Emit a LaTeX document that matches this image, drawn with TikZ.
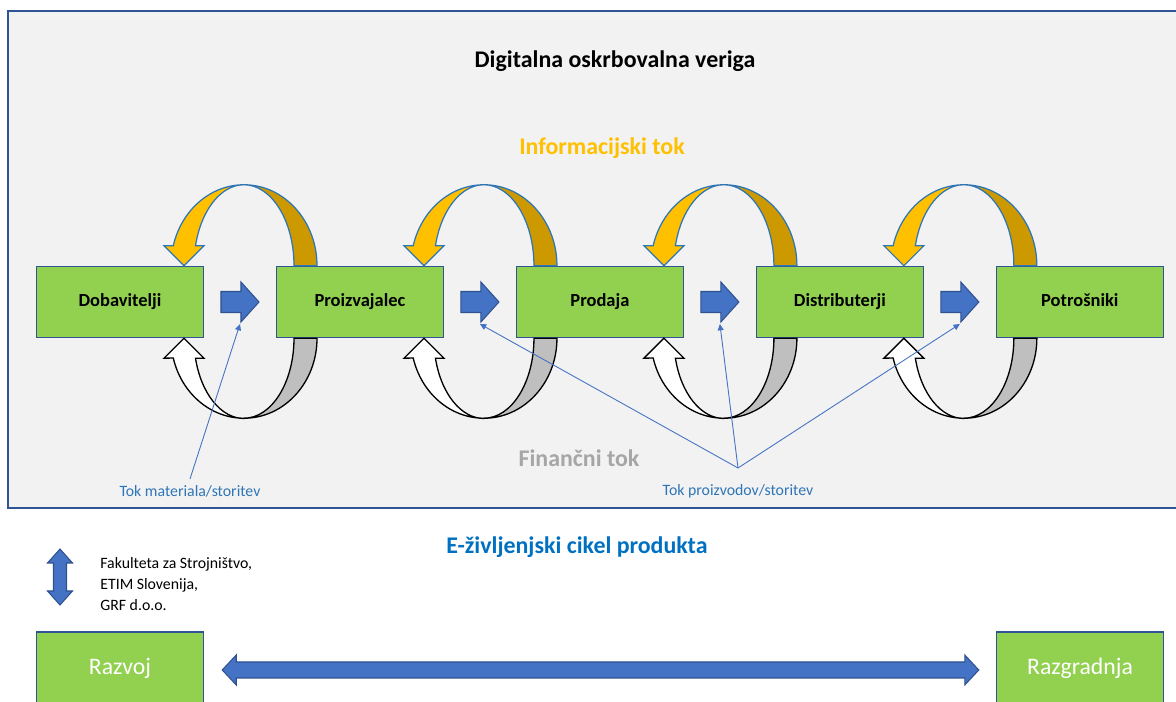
\documentclass[tikz,border=0pt]{standalone}
\usepackage{fontspec}
\setmainfont{Carlito}
\usetikzlibrary{arrows.meta, calc, positioning}
\definecolor{BoxGreen}{HTML}{92D050}
\definecolor{BoxLine}{HTML}{2F5597}
\definecolor{FlowBlue}{HTML}{4472C4}
\definecolor{FlowLine}{HTML}{2F528F}
\definecolor{InfoGold}{HTML}{FFC000}
\definecolor{InfoDark}{HTML}{CC9900}
\definecolor{InfoLine}{HTML}{2E75B6}
\definecolor{FinGray}{HTML}{BFBFBF}
\definecolor{TextGray}{HTML}{A6A6A6}
\definecolor{PanelGray}{HTML}{F2F2F2}
\definecolor{NoteBlue}{HTML}{2E75B6}
\definecolor{CycleBlue}{HTML}{0070C0}

\begin{document}
\begin{tikzpicture}[x=0.02cm, y=0.02cm, on grid,
    stage/.style={draw=BoxLine, line width=0.85pt, fill=BoxGreen, minimum width=3.34cm, minimum height=1.42cm,
      text height=0.72em, text depth=0.22em, font=\fontsize{10.5}{12}\selectfont\bfseries},
    phase/.style={draw=BoxLine, line width=0.85pt, fill=BoxGreen, minimum width=3.34cm, minimum height=1.52cm,
      text height=0.72em, text depth=0.22em, text=white, font=\fontsize{13.5}{16}\selectfont},
    heading/.style={font=\fontsize{13.6}{16}\selectfont\bfseries},
    note/.style={font=\fontsize{9}{11.9}\selectfont},
    blockarrow/.style={fill=FlowBlue, draw=FlowLine, line width=0.6pt},
    infoarc/.style={draw=InfoLine, line width=0.7pt},
    finarc/.style={draw=black, line width=0.75pt},
    callout/.style={draw=FlowBlue, line width=0.5pt, -{Triangle[length=3.6pt, width=3.4pt]}}
  ]
  \useasboundingbox (0,0) rectangle (1176,702);

  % Digital supply chain panel
  \draw[fill=PanelGray, draw=BoxLine, line width=1.1pt] (8,691) rectangle (1190,194);
  \node[heading] (title) at (615,641) {Digitalna oskrbovalna veriga};
  \node[heading, text=InfoGold] (info) at (602,554) {Informacijski tok};
  \node[heading, text=TextGray] (fin) at (579,244) {Finančni tok};

  % Chain members
  \node[stage] (dob) at (120,400) {Dobavitelji};
  \node[stage, right=4.8cm of dob] (proiz) {Proizvajalec};
  \node[stage, right=4.8cm of proiz] (prodaja) {Prodaja};
  \node[stage, right=4.8cm of prodaja] (distr) {Distributerji};
  \node[stage, right=4.8cm of distr] (potr) {Potrošniki};

  \foreach \a/\b/\n in {dob/proiz/1, proiz/prodaja/2, prodaja/distr/3, distr/potr/4} {
    % information flow (top loop)
    \begin{scope}[shift={($(\a.north)+(124,0)$)}]
      \filldraw[infoarc, fill=InfoDark] (0,81) arc[start angle=90, end angle=0, x radius=73, y radius=81]
        -- (50,0) arc[start angle=0, end angle=90, x radius=50, y radius=81] -- cycle;
      \filldraw[infoarc, fill=InfoGold] (0,81) arc[start angle=90, end angle=165.7, x radius=73, y radius=81]
        -- (-80,20) -- (-60,0) -- (-40,20) -- (-48.5,20)
        arc[start angle=165.7, end angle=90, x radius=50, y radius=81] -- cycle;
    \end{scope}
    % financial flow (bottom loop)
    \begin{scope}[shift={($(\a.south)+(124,0)$)}]
      \filldraw[finarc, fill=FinGray] (0,-80) arc[start angle=270, end angle=360, x radius=73, y radius=80]
        -- (50,0) arc[start angle=0, end angle=-90, x radius=50, y radius=80] -- cycle;
      \filldraw[finarc, fill=white] (0,-80) arc[start angle=270, end angle=194.3, x radius=73, y radius=80]
        -- (-80,-20) -- (-60,0) -- (-40,-20) -- (-48.5,-20)
        arc[start angle=194.3, end angle=270, x radius=50, y radius=80] -- cycle;
    \end{scope}
    % material flow
    \coordinate (m\n) at ($(\a.east)!0.5!(\b.west)$);
    \filldraw[blockarrow] ($(m\n)+(-19,-10.5)$) -- ++(20,0) -- ++(0,-9.5) -- ++(18,20)
      -- ++(-18,20) -- ++(0,-9.5) -- ++(-20,0) -- cycle;
    \coordinate (t\n) at ($(m\n)+(0,-22)$);
  }

  % Callouts
  \node[note, text=NoteBlue] (lmat) at (190,211) {Tok materiala/storitev};
  \node[note, text=NoteBlue] (lprod) at (738,211) {Tok proizvodov/storitev};
  \coordinate (hub) at (738,234);
  \draw[callout] (lmat.north) -- (t1);
  \foreach \n in {2,3,4}
    \draw[callout] (hub) -- (t\n);

  % Product e-life cycle
  \node[heading, text=CycleBlue] (elc) at (577,155) {E-življenjski cikel produkta};
  \node[note, anchor=west, align=left, inner sep=0pt] (partners) at (100,118)
    {Fakulteta za Strojništvo,\\ETIM Slovenija,\\GRF d.o.o.};
  \filldraw[blockarrow] (60,153) -- ++(12.5,-14) -- ++(-6,0) -- ++(0,-28) -- ++(6,0) -- (60,97)
    -- ++(-12.5,14) -- ++(6,0) -- ++(0,28) -- ++(-6,0) -- cycle;

  \node[phase] (razvoj) at (120,32) {Razvoj};
  \node[phase] (razgr) at (1080,32) {Razgradnja};
  \path ($(razvoj.east)+(18,0)$) coordinate (dl) ($(razgr.west)+(-17,0)$) coordinate (dr);
  \filldraw[blockarrow] (dl) -- ++(14,15) -- ++(0,-7) -- ($(dr)+(-14,8)$) -- ++(0,7) -- (dr)
    -- ++(-14,-15) -- ++(0,7) -- ($(dl)+(14,-8)$) -- ++(0,-7) -- cycle;
\end{tikzpicture}
\end{document}
